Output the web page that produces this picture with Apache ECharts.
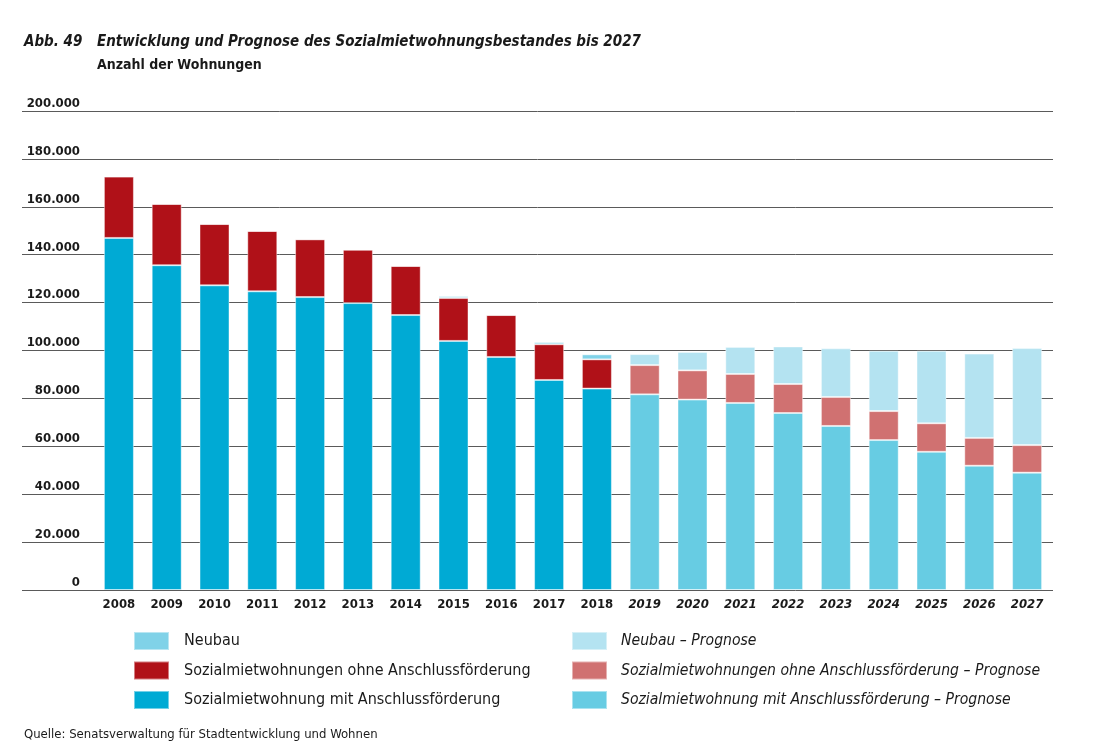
<!DOCTYPE html>
<html>
<head>
<meta charset="utf-8">
<title>Abb. 49</title>
<script src="https://cdn.jsdelivr.net/npm/echarts@6/dist/echarts.min.js"></script>
<style>
    html, body { margin: 0; padding: 0; background: #fff; }
    #chart { width: 1094px; height: 748px; }
</style>
</head>
<body>
<div id="chart"></div>
<script>
// Jahre
var years = ['2008', '2009', '2010', '2011', '2012', '2013', '2014', '2015', '2016', '2017',
             '2018', '2019', '2020', '2021', '2022', '2023', '2024', '2025', '2026', '2027'];
var firstPrognoseYear = 2019;

var mitAnschluss = [147.0, 135.6, 127.2, 124.7, 122.3, 119.8, 114.8, 104.0, 97.3, 87.7, 84.1];
var ohneAnschluss = [25.6, 25.6, 25.6, 25.2, 24.1, 22.3, 20.5, 17.9, 17.5, 14.9, 12.2];
var neubau = [0, 0, 0, 0, 0, 0, 0, 0.8, 0, 0.9, 2.1];

// Prognose 2019-2027
var mitAnschlussPrognose = [81.7, 79.5, 78.1, 73.9, 68.5, 62.6, 57.7, 51.9, 49.0];
var ohneAnschlussPrognose = [12.2, 12.2, 12.1, 12.1, 12.1, 12.1, 11.9, 11.6, 11.5];
var neubauPrognose = [4.6, 7.7, 11.3, 15.7, 20.3, 25.2, 30.3, 35.2, 40.5];

var yTicks = [0, 20000, 40000, 60000, 80000, 100000, 120000, 140000, 160000, 180000, 200000];

var FONT = "'Liberation Sans Narrow', 'DejaVu Sans Condensed', sans-serif";

//Bestand links, Prognose rechts auf volle Laenge bringen
function bestand(arr) {
    var out = [];
    for (var i = 0; i < years.length; i++) {
        out.push(i < arr.length ? Math.round(arr[i] * 1000) : '-');
    }
    return out;
}
function prognose(arr) {
    var out = [];
    var offset = years.length - arr.length;
    for (var i = 0; i < years.length; i++) {
        out.push(i >= offset ? Math.round(arr[i - offset] * 1000) : '-');
    }
    return out;
}

function formatNum(v) {
    if (v === 0) return '0';
    return (v / 1000).toFixed(0) + '.000';
}

function barSeries(name, data, color) {
    return {
        name: name,
        type: 'bar',
        xAxisIndex: 1,
        yAxisIndex: 1,
        stack: 'bestand',
        barWidth: 30,
        itemStyle: {
            color: color,
            borderColor: 'rgba(255,255,255,0.45)',
            borderWidth: 1
        },
        data: data
    };
}

var chart = echarts.init(document.getElementById('chart'));

var option = {
    animation: false,
    backgroundColor: '#fff',
    title: [{
        text: 'Abb. 49',
        left: 24,
        top: 35,
        padding: 0,
        textStyle: { fontFamily: FONT, fontSize: 15, fontWeight: 'bold', fontStyle: 'italic', color: '#1a1a1a' }
    }, {
        text: 'Entwicklung und Prognose des Sozialmietwohnungsbestandes bis 2027',
        left: 97,
        top: 35,
        padding: 0,
        textStyle: { fontFamily: FONT, fontSize: 15, fontWeight: 'bold', fontStyle: 'italic', color: '#1a1a1a' }
    }, {
        text: 'Anzahl der Wohnungen',
        left: 97,
        top: 58,
        padding: 0,
        textStyle: { fontFamily: FONT, fontSize: 14, fontWeight: 'bold', color: '#1a1a1a' }
    }, {
        text: 'Quelle: Senatsverwaltung für Stadtentwicklung und Wohnen',
        left: 24,
        top: 728,
        padding: 0,
        textStyle: { fontFamily: FONT, fontSize: 13, fontWeight: 'normal', color: '#1a1a1a' }
    }],
    legend: [{
        orient: 'vertical',
        left: 133,
        top: 631,
        padding: 0,
        itemWidth: 35,
        itemHeight: 18,
        itemGap: 9.5,
        icon: 'rect',
        textStyle: { fontFamily: FONT, fontSize: 16, lineHeight: 18, color: '#1a1a1a', padding: [0, 0, 0, 10] },
        data: ['Neubau', 'Sozialmietwohnungen ohne Anschlussförderung', 'Sozialmietwohnung mit Anschlussförderung']
    }, {
        orient: 'vertical',
        left: 571,
        top: 631,
        padding: 0,
        itemWidth: 35,
        itemHeight: 18,
        itemGap: 9.5,
        icon: 'rect',
        textStyle: { fontFamily: FONT, fontSize: 15.6, lineHeight: 18, fontStyle: 'italic', color: '#1a1a1a', padding: [0, 0, 0, 9] },
        data: ['Neubau – Prognose', 'Sozialmietwohnungen ohne Anschlussförderung – Prognose', 'Sozialmietwohnung mit Anschlussförderung – Prognose']
    }],
    grid: [
        //Hintergrund: Gitterlinien ueber die volle Breite
        { left: 22, right: 41, top: 111, bottom: 158 },
        //Balken
        { left: 95, right: 43, top: 111, bottom: 158 }
    ],
    xAxis: [{
        gridIndex: 0,
        type: 'value',
        min: 0,
        max: 1,
        show: true,
        axisLine: { show: false },
        axisTick: { show: false },
        axisLabel: { show: false },
        splitLine: { show: false }
    }, {
        gridIndex: 1,
        type: 'category',
        data: years,
        axisLine: { show: false },
        axisTick: { show: false },
        axisLabel: {
            interval: 0,
            margin: 8,
            formatter: function (v) {
                return (+v >= firstPrognoseYear ? '{p|' : '{b|') + v + '}';
            },
            rich: {
                b: { fontFamily: FONT, fontSize: 13, fontWeight: 'bold', color: '#1a1a1a' },
                p: { fontFamily: FONT, fontSize: 13, fontWeight: 'bold', fontStyle: 'italic', color: '#1a1a1a' }
            }
        }
    }],
    yAxis: [{
        gridIndex: 0,
        type: 'value',
        min: yTicks[0],
        max: yTicks[yTicks.length - 1],
        interval: yTicks[1] - yTicks[0],
        axisLine: { show: false },
        axisTick: { show: false },
        axisLabel: {
            inside: true,
            margin: 58,
            align: 'right',
            verticalAlign: 'bottom',
            padding: [0, 0, 1, 0],
            fontFamily: FONT,
            fontSize: 13,
            fontWeight: 'bold',
            color: '#1a1a1a',
            formatter: formatNum
        },
        splitLine: { show: true, lineStyle: { color: '#5a5a5a', width: 1 } }
    }, {
        gridIndex: 1,
        type: 'value',
        min: yTicks[0],
        max: yTicks[yTicks.length - 1],
        interval: yTicks[1] - yTicks[0],
        show: false,
        splitLine: { show: false }
    }],
    series: [
        barSeries('Sozialmietwohnung mit Anschlussförderung', bestand(mitAnschluss), '#00aad4'),
        barSeries('Sozialmietwohnungen ohne Anschlussförderung', bestand(ohneAnschluss), '#b01118'),
        barSeries('Neubau', bestand(neubau), '#80d2e8'),
        barSeries('Sozialmietwohnung mit Anschlussförderung – Prognose', prognose(mitAnschlussPrognose), '#67cce3'),
        barSeries('Sozialmietwohnungen ohne Anschlussförderung – Prognose', prognose(ohneAnschlussPrognose), '#d07171'),
        barSeries('Neubau – Prognose', prognose(neubauPrognose), '#b4e3f1')
    ]
};

chart.setOption(option);
</script>
</body>
</html>
